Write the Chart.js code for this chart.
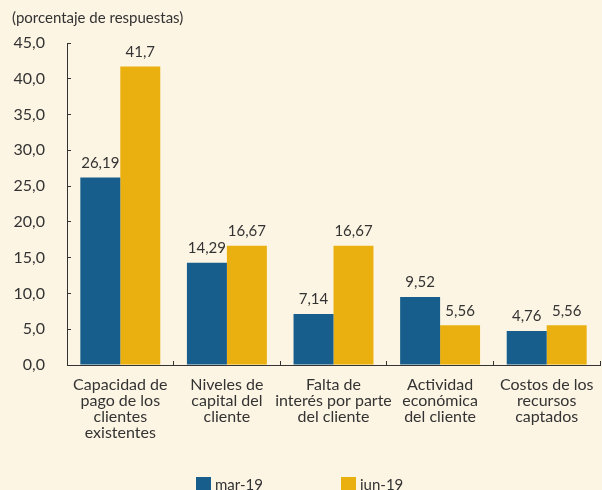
<!DOCTYPE html>
<html>
<head>
<meta charset="utf-8">
<script src="https://cdn.jsdelivr.net/npm/chart.js@4/dist/chart.umd.min.js"></script>
<style>
  body { margin: 0; background: #fdf5e4; }
  #wrap { position: relative; width: 602px; height: 490px; }
  .legend { position: absolute; top: 475px; font: 15px Lato, sans-serif; color: #333; }
  .legend span.box { position: absolute; left: 0; top: 2px; width: 15px; height: 15px; }
  .legend span.txt { position: absolute; left: 19px; top: 0; white-space: nowrap; }
</style>
</head>
<body>
<div id="wrap">
  <canvas id="myChart" width="602" height="490"></canvas>
  <div class="legend" style="left:196px"><span class="box" style="background:#175e8c"></span><span class="txt">mar-19</span></div>
  <div class="legend" style="left:341px"><span class="box" style="background:#e9b010"></span><span class="txt">jun-19</span></div>
</div>
<script>
const categories = [
  ["Capacidad de", "pago de los", "clientes", "existentes"],
  ["Niveles de", "capital del", "cliente"],
  ["Falta de", "interés por parte", "del cliente"],
  ["Actividad", "económica", "del cliente"],
  ["Costos de los", "recursos", "captados"]
];
const mar19 = [26.19, 14.29, 7.14, 9.52, 4.76];
const jun19 = [41.7, 16.67, 16.67, 5.56, 5.56];
const yTicks = [0, 5, 10, 15, 20, 25, 30, 35, 40, 45];

const textColor = "#333333";
const fontFamily = "Lato, sans-serif";

// value labels above each bar
const barLabels = {
  id: "barLabels",
  afterDatasetsDraw(chart) {
    const ctx = chart.ctx;
    ctx.save();
    ctx.font = "15px " + fontFamily;
    ctx.fillStyle = textColor;
    ctx.textAlign = "center";
    ctx.textBaseline = "bottom";
    chart.data.datasets.forEach((ds, i) => {
      chart.getDatasetMeta(i).data.forEach((bar, j) => {
        ctx.fillText(String(ds.data[j]).replace(".", ","), bar.x, bar.y - 7);
      });
    });
    ctx.restore();
  }
};

const ctx = document.getElementById("myChart").getContext("2d");
const chart = new Chart(ctx, {
  type: "bar",
  data: {
    labels: categories,
    datasets: [
      { label: "mar-19", data: mar19, backgroundColor: "#175e8c" },
      { label: "jun-19", data: jun19, backgroundColor: "#e9b010" }
    ]
  },
  options: {
    responsive: false,
    animation: false,
    layout: { padding: { left: 12, right: 2, top: 0, bottom: 0 } },
    datasets: { bar: { categoryPercentage: 0.75, barPercentage: 1.0 } },
    plugins: {
      legend: { display: false },
      tooltip: { enabled: false },
      title: {
        display: true,
        text: "(porcentaje de respuestas)",
        align: "start",
        color: textColor,
        font: { family: fontFamily, size: 15, weight: "normal" },
        padding: { top: 9, bottom: 16 }
      }
    },
    scales: {
      x: {
        afterFit: (scale) => {
          scale.height = 125;
          scale.paddingLeft = 0;
          scale.paddingRight = 0;
        },
        grid: { drawOnChartArea: false, tickLength: -4, color: textColor, offset: true },
        border: { color: textColor, width: 1 },
        ticks: {
          color: textColor,
          font: { family: fontFamily, size: 16, lineHeight: 1.0 },
          padding: 16,
          maxRotation: 0,
          autoSkip: false
        }
      },
      y: {
        min: 0,
        max: 45,
        afterFit: (scale) => { scale.width = 55; },
        afterBuildTicks: (scale) => { scale.ticks = yTicks.map(v => ({ value: v })); },
        grid: { drawOnChartArea: false, tickLength: -4, color: textColor },
        border: { color: textColor, width: 1 },
        ticks: {
          color: textColor,
          font: { family: fontFamily, size: 16 },
          padding: 26,
          callback: (v) => v.toFixed(1).replace(".", ",")
        }
      }
    }
  },
  plugins: [barLabels]
});
</script>
</body>
</html>
